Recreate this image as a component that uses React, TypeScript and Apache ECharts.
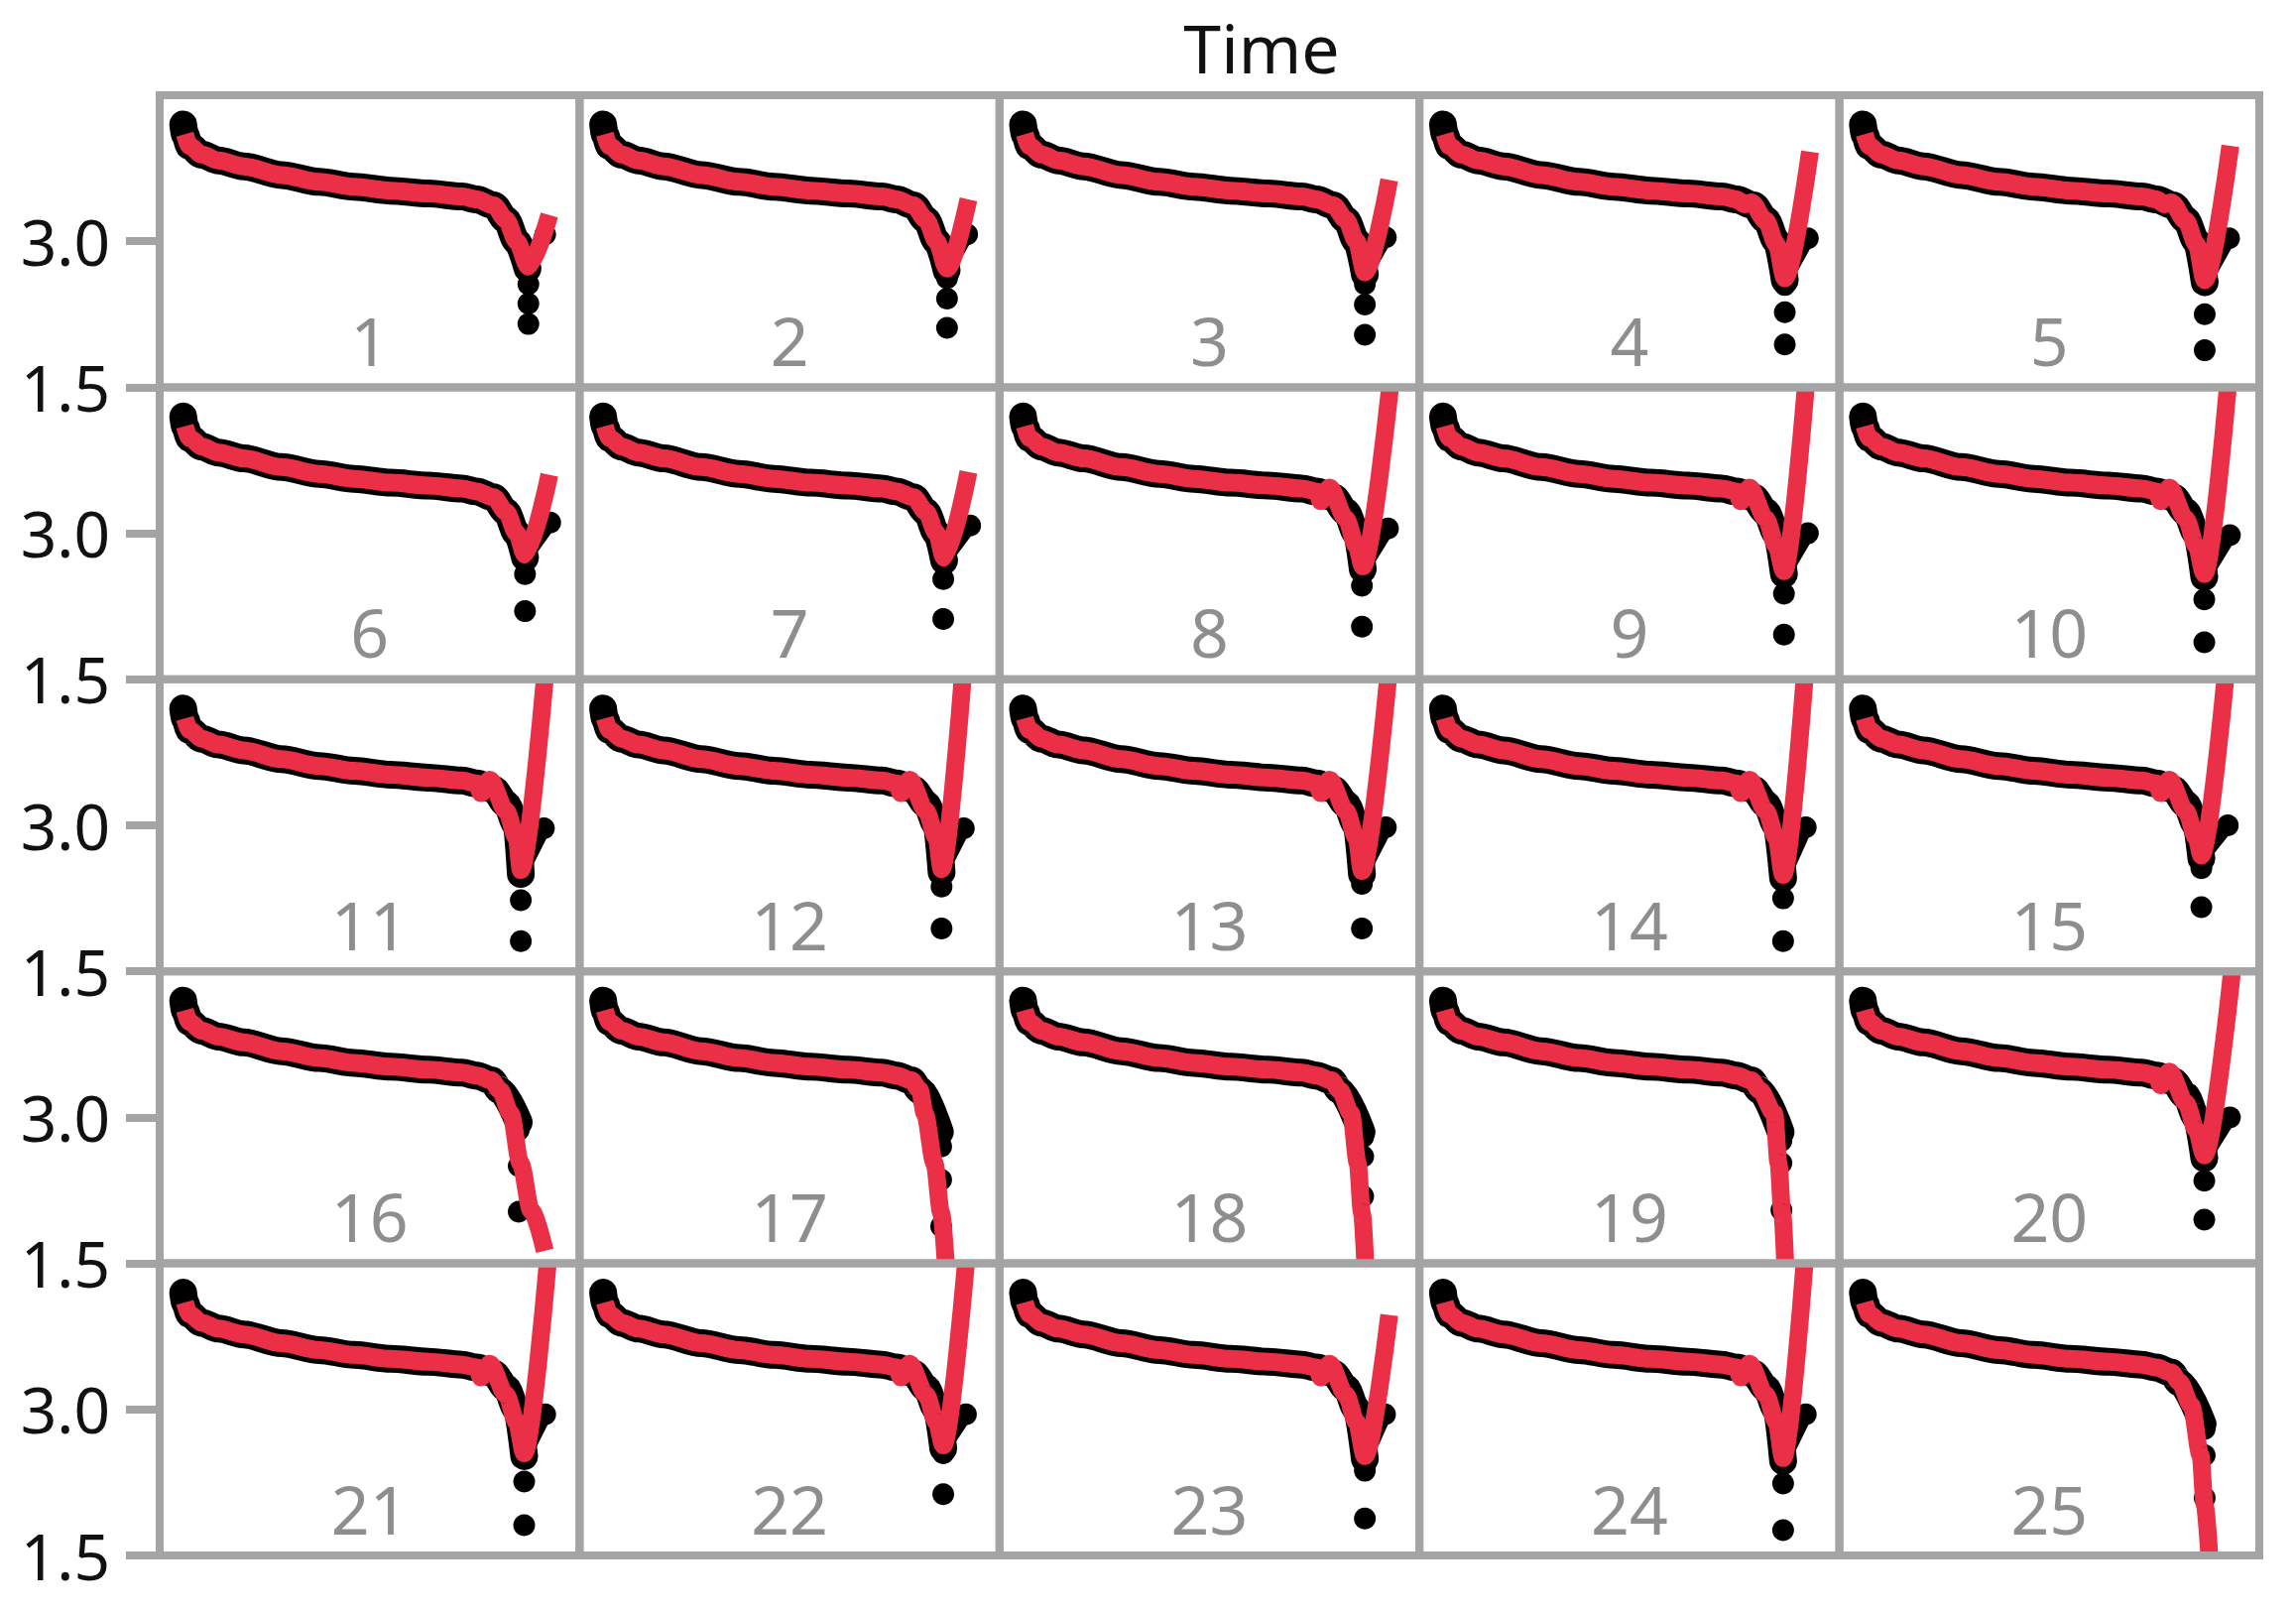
import React, { useEffect, useRef } from 'react';
import * as echarts from 'echarts';

// panel labels (wrap variable "Time")
const panelLabels = [
  '1', '2', '3', '4', '5',
  '6', '7', '8', '9', '10',
  '11', '12', '13', '14', '15',
  '16', '17', '18', '19', '20',
  '21', '22', '23', '24', '25',
];

const yTicks = [1.5, 3.0];

// shared upper part of every curve (x in % of panel width, y in volts)
const baseCurve = [
  [5.6, 4.2], [6.0, 4.1], [7.1, 3.98], [10, 3.89], [14, 3.83], [20, 3.77],
  [29, 3.68], [38, 3.61], [46.3, 3.56], [55, 3.52], [64, 3.49], [72, 3.46], [75.5, 3.43],
];

// knee shapes of the fitted line
const kneeSmooth = [[79.5, 3.37], [82.5, 3.22], [85, 3.0]];
const kneeNotch = [[77.5, 3.38], [79, 3.4], [82.5, 3.21], [85, 2.97]];
const kneeKink = [[76.5, 3.33], [78.6, 3.47], [82.5, 3.15], [85, 2.87]];
const kneeDrop = [[79, 3.38], [81, 3.28]];

// s = smooth, n = notch, k = kink, d = drop without recovery
const kneeType = [
  's', 's', 's', 'n', 'n',
  's', 's', 'k', 'k', 'k',
  'k', 'k', 'k', 'k', 'k',
  'd', 'd', 'd', 'd', 'k',
  'k', 'k', 'k', 'k', 'd',
];

// fitted (red) line after the knee
const redTail = [
  [[87.8, 2.74], [92.8, 3.27]],
  [[87.5, 2.72], [92.6, 3.43]],
  [[87, 2.68], [92.8, 3.63]],
  [[87, 2.62], [93, 3.92]],
  [[87, 2.6], [93.1, 3.98]],
  [[87, 2.78], [92.8, 3.6]],
  [[86.8, 2.75], [92.6, 3.63]],
  [[86.5, 2.66], [93.0, 4.5]],
  [[86.8, 2.61], [92.0, 4.5]],
  [[86.9, 2.58], [92.5, 4.5]],
  [[86, 2.54], [91.7, 4.5]],
  [[86.2, 2.55], [91.2, 4.5]],
  [[86.3, 2.53], [92.5, 4.5]],
  [[86.6, 2.49], [91.7, 4.5]],
  [[86.2, 2.69], [91.9, 4.5]],
  [[83.6, 3.04], [85.9, 2.53], [88.5, 2.04], [91.7, 1.63]],
  [[82.2, 3.04], [84.5, 2.53], [86.1, 2.02], [87.2, 1.5]],
  [[83.7, 3.04], [85.3, 2.53], [86.3, 2.02], [87.1, 1.5]],
  [[84.5, 3.04], [85.5, 2.53], [86.4, 2.02], [87.1, 1.5]],
  [[86.9, 2.61], [93.5, 4.5]],
  [[86.8, 2.55], [92.4, 4.5]],
  [[86.6, 2.63], [92.0, 4.5]],
  [[87, 2.52], [92.8, 3.97]],
  [[86.6, 2.5], [91.7, 4.5]],
  [[83.8, 3.04], [86, 2.53], [87, 2.02], [88.1, 1.5]],
];

// observed (black) band after the knee: lowest point of the dense band
const blackLow = [
  [87.6, 2.72], [87.4, 2.7], [87, 2.66], [87, 2.6], [87, 2.58],
  [87, 2.75], [86.8, 2.72], [86.5, 2.63], [86.8, 2.58], [86.9, 2.55],
  [86, 2.5], [86.2, 2.52], [86.3, 2.5], [86.6, 2.46], [86.2, 2.66],
  [85.5, 2.95], [85.8, 2.85], [86.2, 2.85], [86, 2.85], [86.9, 2.58],
  [86.8, 2.52], [86.6, 2.6], [87, 2.49], [86.6, 2.47], [86.5, 2.85],
];

// last observation on the recovery side (null where the voltage keeps falling)
const blackEnd = [
  [91.8, 3.07], [92.3, 3.07], [92, 3.04], [92.5, 3.03], [92.8, 3.03],
  [93, 3.11], [93, 3.08], [92.5, 3.05], [92.5, 3.0], [93, 2.98],
  [91.5, 2.97], [91.5, 2.97], [92, 2.98], [92, 2.98], [92.5, 3.0],
  null, null, null, null, [93, 3.0],
  [91.8, 2.95], [92, 2.95], [91.8, 2.95], [92, 2.95], null,
];

const startPoint = [5.6, 4.2];

// isolated observations below the minimum
const tailDotX = [
  87.8, 87.5, 87, 87, 87,
  87, 86.6, 86.3, 86.8, 86.9,
  86, 86.2, 86.3, 86.6, 86.2,
  85.5, 86.1, 86.6, 86.2, 86.9,
  86.8, 86.6, 87, 86.6, 87,
];
const tailDotY = [
  [2.56, 2.36, 2.15],
  [2.62, 2.41, 2.11],
  [2.56, 2.35, 2.04],
  [2.55, 2.27, 1.94],
  [2.55, 2.25, 1.88],
  [2.58, 2.2],
  [2.53, 2.12],
  [2.46, 2.04],
  [2.38, 1.96],
  [2.32, 1.88],
  [2.23, 1.81],
  [2.37, 1.94],
  [2.4, 1.94],
  [2.25, 1.81],
  [2.56, 2.16],
  [2.87, 2.5, 2.03],
  [2.7, 2.36, 1.88],
  [2.8, 2.6, 2.19],
  [2.76, 2.53, 2.05],
  [2.35, 1.95],
  [2.26, 1.81],
  [2.55, 2.13],
  [2.37, 1.88],
  [2.24, 1.76],
  [2.8, 2.53, 2.09],
];

// layout
const LEFT = 161;
const TOP = 96;
const PW = 423.4;
const PH = 294.4;
const GRAY = '#a4a4a4';
const RED = '#eb2f47';
const FONT = '"Noto Sans", "Open Sans", sans-serif';

const kneeFor = (t: string) =>
  t === 'n' ? kneeNotch : t === 'k' ? kneeKink : t === 'd' ? kneeDrop : kneeSmooth;

function buildOption() {
  const grid: any[] = [];
  const xAxis: any[] = [];
  const yAxis: any[] = [];
  const series: any[] = [];
  const graphic: any[] = [
    {
      type: 'text',
      x: 1272,
      y: 47,
      z: 20,
      style: {
        text: 'Time',
        fill: '#111',
        fontSize: 68,
        fontFamily: FONT,
        textAlign: 'center',
        textVerticalAlign: 'middle',
      },
    },
  ];

  panelLabels.forEach((label, i) => {
    const r = Math.floor(i / 5);
    const c = i % 5;
    const left = LEFT + c * PW;
    const top = TOP + r * PH;
    grid.push({ left, top, width: PW, height: PH, show: false });
    xAxis.push({ gridIndex: i, type: 'value', min: 0, max: 100, show: false });
    yAxis.push({
      gridIndex: i,
      type: 'value',
      min: 1.5,
      max: 4.5,
      interval: 1.5,
      show: c === 0,
      axisLine: { show: false },
      splitLine: { show: false },
      axisTick: {
        show: true,
        length: 34,
        customValues: yTicks,
        lineStyle: { color: GRAY, width: 8 },
      },
      axisLabel: {
        customValues: yTicks,
        margin: 50,
        fontSize: 64,
        fontFamily: FONT,
        color: '#111',
        formatter: (v: number) => (v >= 4.5 ? '' : v.toFixed(1)),
      },
    });

    const blackKnee = kneeType[i] === 'd' ? kneeDrop : kneeSmooth;
    const end = blackEnd[i];
    // dense observed band
    series.push({
      type: 'line',
      xAxisIndex: i,
      yAxisIndex: i,
      data: [...baseCurve, ...blackKnee, blackLow[i]],
      showSymbol: false,
      smooth: 0.3,
      smoothMonotone: 'x',
      silent: true,
      z: 2,
      lineStyle: { color: '#000', width: 28, cap: 'round', join: 'round' },
    });
    // recovery observations
    if (end) {
      series.push({
        type: 'line',
        xAxisIndex: i,
        yAxisIndex: i,
        data: [blackLow[i], end],
        showSymbol: false,
        silent: true,
        z: 2,
        lineStyle: { color: '#000', width: 14, cap: 'round' },
      });
    }
    series.push({
      type: 'scatter',
      xAxisIndex: i,
      yAxisIndex: i,
      data: [startPoint, ...(end ? [end] : []), ...tailDotY[i].map((y) => [tailDotX[i], y])],
      symbolSize: 22,
      silent: true,
      z: 3,
      itemStyle: { color: '#000', opacity: 1 },
    });
    // fitted line
    series.push({
      type: 'line',
      xAxisIndex: i,
      yAxisIndex: i,
      data: [...baseCurve.slice(1), ...kneeFor(kneeType[i]), ...redTail[i]],
      showSymbol: false,
      smooth: 0.3,
      smoothMonotone: 'x',
      silent: true,
      z: 4,
      lineStyle: { color: RED, width: 18, cap: 'butt', join: 'round' },
    });

    graphic.push({
      type: 'rect',
      z: 10,
      silent: true,
      shape: { x: left, y: top, width: PW, height: PH },
      style: { fill: 'none', stroke: GRAY, lineWidth: 8 },
    });
    graphic.push({
      type: 'text',
      x: left + PW / 2,
      y: top + PH - 48,
      z: 11,
      silent: true,
      style: {
        text: label,
        fill: '#8e8e8e',
        fontSize: 68,
        fontFamily: FONT,
        textAlign: 'center',
        textVerticalAlign: 'middle',
      },
    });
  });

  return { animation: false, grid, xAxis, yAxis, series, graphic };
}

export default function App() {
  const chartRef = useRef<HTMLDivElement>(null);

  useEffect(() => {
    if (!chartRef.current) return;
    const chart = echarts.init(chartRef.current, undefined, { renderer: 'svg' });
    chart.setOption(buildOption());
    return () => {
      chart.dispose();
    };
  }, []);

  return (
    <div
      ref={chartRef}
      style={{ position: 'absolute', left: 0, top: 0, width: 2315, height: 1624, background: '#fff' }}
    />
  );
}
